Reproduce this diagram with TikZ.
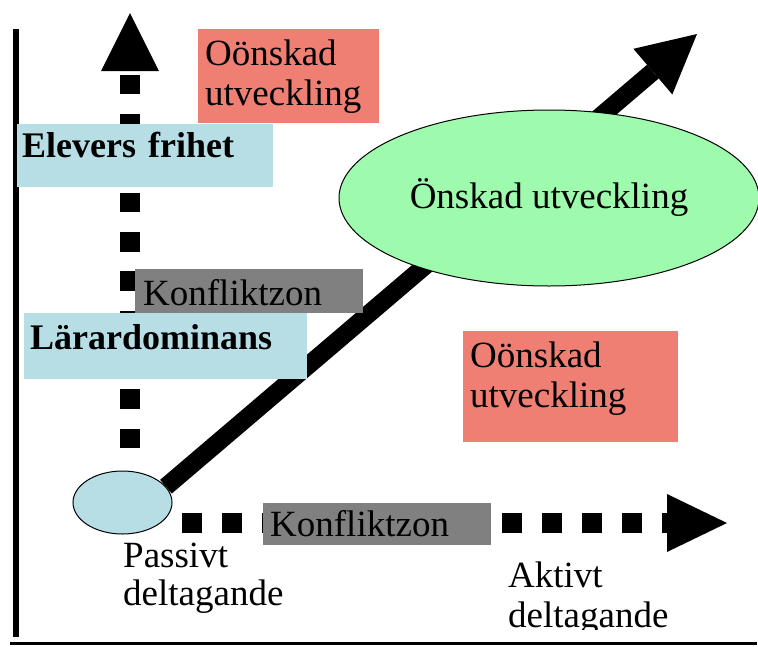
\documentclass[tikz,border=0pt]{standalone}
\usepackage{fontspec}
\setmainfont{LiberationSerif}[Extension=.ttf, UprightFont=*-Regular, BoldFont=*-Bold,
  ItalicFont=*-Italic, BoldItalicFont=*-BoldItalic]
\usetikzlibrary{arrows.meta,shapes.geometric}
\pgfdeclarelayer{bg}
\pgfsetlayers{bg,main}
\definecolor{salmon}{HTML}{EE7F72}
\definecolor{paleblue}{HTML}{B6DEE4}
\definecolor{zonegray}{HTML}{808080}
\definecolor{palegreen}{HTML}{9EFBAD}
\begin{document}
\begin{tikzpicture}[x=1pt,y=-1pt,
  txt/.style={font=\rmfamily\fontsize{37}{40}\selectfont},
  boldtxt/.style={font=\rmfamily\fontsize{36}{40}\selectfont\bfseries},
  box/.style={anchor=north west, inner ysep=0pt, align=left},
  caption/.style={anchor=base west, inner sep=0pt, text width=220pt, align=left},
  bigtip/.style={-{Triangle[length=#1,width=58pt,line width=0pt]}},
  thickdash/.style={line width=20pt, dash pattern=on #1 off #1}
]
\useasboundingbox (0,0) rectangle (758,646);

% text boxes
\node[box, fill=salmon, txt, inner xsep=7pt, text width=167pt,
      text height=36pt, text depth=58pt] (badtop) at (198,29) {Oönskad\\utveckling};
\node[box, fill=paleblue, boldtxt, inner xsep=5pt, text width=246pt,
      text height=33pt, text depth=30pt] (freedom) at (17,124) {Elevers frihet};
\node[box, fill=zonegray, txt, inner xsep=8pt, text width=212pt,
      text height=36pt, text depth=8pt] (zonetop) at (135,269) {Konfliktzon};
\node[box, fill=paleblue, boldtxt, inner xsep=6pt, text width=271pt,
      text height=36pt, text depth=30pt] (dominance) at (24,313) {Lärardominans};
\node[box, fill=salmon, txt, inner xsep=7pt, text width=201pt,
      text height=36pt, text depth=75pt] (badright) at (463,331) {Oönskad\\utveckling};
\node[box, fill=zonegray, txt, inner xsep=7pt, text width=214pt,
      text height=33pt, text depth=9pt] (zonebottom) at (263,503) {Konfliktzon};

% ellipses
\node[ellipse, draw, line width=1pt, fill=palegreen, minimum width=420pt,
      minimum height=176pt, inner sep=0pt, txt] (good) at (549,198) {Önskad utveckling};
\node[ellipse, draw, line width=1pt, fill=paleblue, minimum width=99pt,
      minimum height=63pt] (start) at (122.5,502.5) {};

% axis captions
\node[caption, font=\rmfamily\fontsize{37}{38}\selectfont] (passive) at (123,567) {Passivt\\deltagande};
\begin{scope}
  \clip (0,0) rectangle (758,629);
  \node[caption, txt] (active) at (508,587) {Aktivt\\deltagande};
\end{scope}

% free ends of the arrows
\coordinate (vfrom) at (130,448);
\coordinate (vtip)  at (130,13);
\coordinate (hfrom) at (182,523);
\coordinate (htip)  at (727,523);
\coordinate (dtip)  at (697,34);

\begin{pgfonlayer}{bg}
  % frame
  \draw[line width=6pt] (16,29) -- (16,637);
  \draw[line width=3pt] (10,643) -- (757,643);
  % dashed axes
  \draw[line width=20pt, dash pattern=on 19.5pt off 19.8pt, bigtip=58pt] (vfrom) -- (vtip);
  \draw[thickdash=20pt, bigtip=60pt] (hfrom) -- (htip);
  % development arrow
  \draw[line width=18pt, -{Triangle[length=58pt,width=60pt,line width=0pt]}] (start.20) -- (dtip);
\end{pgfonlayer}
\end{tikzpicture}
\end{document}
